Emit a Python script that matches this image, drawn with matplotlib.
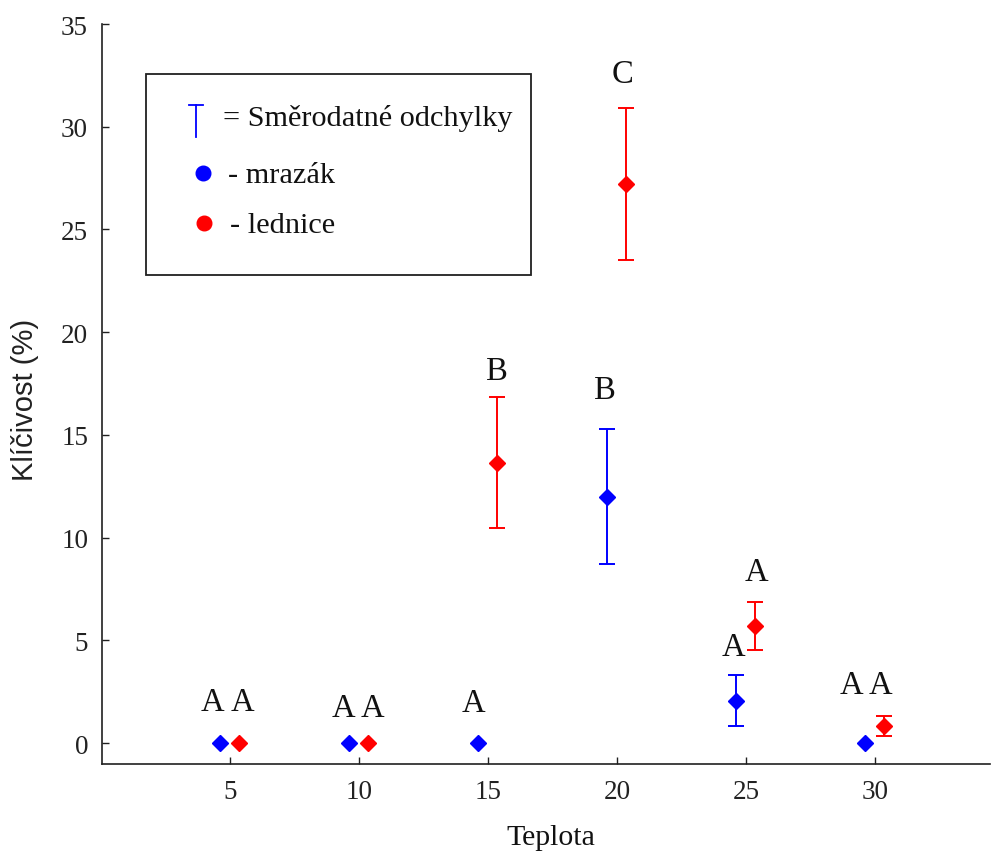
import numpy as np
import matplotlib
matplotlib.use("Agg")
import matplotlib.pyplot as plt
from matplotlib.patches import Rectangle

# ---- data ----
temps = [5, 10, 15, 20, 25, 30]
mrazak_mean = [0.0, 0.0, 0.0, 12.0, 2.05, 0.0]
mrazak_sd = [0.0, 0.0, 0.0, 3.27, 1.24, 0.0]
lednice_mean = [0.0, 0.0, 13.65, 27.2, 5.7, 0.82]
lednice_sd = [0.0, 0.0, 3.17, 3.7, 1.15, 0.5]

# significance letters (group labels) and where they sit
letters = ['A', 'A', 'A', 'A', 'A', 'B', 'B', 'C', 'A', 'A', 'A', 'A']
letter_x = [4.34, 5.47, 9.38, 10.54, 14.42, 15.35, 19.53, 20.23, 24.5, 25.39, 29.07, 30.23]
letter_y = [2.0, 2.0, 1.7, 1.7, 1.95, 18.1, 17.2, 32.6, 4.67, 8.33, 2.82, 2.82]

xticks = [5, 10, 15, 20, 25, 30]
yticks = [0, 5, 10, 15, 20, 25, 30, 35]

legend_labels = ['= Směrodatné odchylky', '- mrazák', '- lednice']

BLUE = '#0000ff'
RED = '#ff0000'
SERIF = 'Liberation Serif'
SANS = 'Liberation Sans'

W, H = 993, 854
fig = plt.figure(figsize=(W / 100, H / 100), dpi=100)
ax_l, ax_r, ax_t, ax_b = 102, 990, 25, 765
ax = fig.add_axes([ax_l / W, 1 - ax_b / H, (ax_r - ax_l) / W, (ax_b - ax_t) / H])

off_b, off_r = -0.4, 0.35
xb = np.array(temps) + off_b
xr = np.array(temps) + off_r

def sd_or_nan(v):
    return np.array([s if s > 0 else np.nan for s in v])

ax.errorbar(xb, mrazak_mean, yerr=sd_or_nan(mrazak_sd), fmt='D', color=BLUE,
            ecolor=BLUE, elinewidth=1.4, capsize=6, capthick=1.4, markersize=8.5, zorder=3)
ax.errorbar(xr, lednice_mean, yerr=sd_or_nan(lednice_sd), fmt='D', color=RED,
            ecolor=RED, elinewidth=1.4, capsize=6, capthick=1.4, markersize=8.5, zorder=3)

for t, x, y in zip(letters, letter_x, letter_y):
    ax.text(x, y, t, ha='center', va='center', fontsize=23.5, family=SERIF, color='#111111')

ax.set_xlim(0.04, 34.46)
ax.set_ylim(-1.02, 35.0)
ax.set_xticks(xticks)
ax.set_yticks(yticks)
ax.tick_params(direction='in', length=5, width=1.0, color='#202020')
ax.tick_params(axis='x', pad=11)
ax.tick_params(axis='y', pad=10)
for lab in ax.get_xticklabels() + ax.get_yticklabels():
    lab.set_fontfamily(SERIF)
    lab.set_fontsize(19.5)
    lab.set_color('#222222')

for s in ['top', 'right']:
    ax.spines[s].set_visible(False)
for s in ['left', 'bottom']:
    ax.spines[s].set_linewidth(1.2)
    ax.spines[s].set_color('#202020')

ax.set_xlabel('Teplota', family=SERIF, fontsize=21.5, color='#111111', va='center')
ax.xaxis.set_label_coords((551 - ax_l) / (ax_r - ax_l), (ax_b - 838) / (ax_b - ax_t))
ax.set_ylabel('Klíčivost (%)', family=SANS, fontsize=21, color='#222222', va='center')
ax.yaxis.set_label_coords((25 - ax_l) / (ax_r - ax_l), (ax_b - 400) / (ax_b - ax_t))

# ---- hand-drawn legend box (axes pixel geometry) ----
def fx(px):
    return (px - ax_l) / (ax_r - ax_l)

def fy(py):
    return (ax_b - py) / (ax_b - ax_t)

ax.add_patch(Rectangle((fx(146), fy(276)), fx(531) - fx(146), fy(75) - fy(276),
                       transform=ax.transAxes, fill=False, edgecolor='#202020',
                       linewidth=1.3, zorder=4))
# error-bar glyph
ax.plot([fx(196), fx(196)], [fy(106), fy(138)], transform=ax.transAxes, color=BLUE, lw=1.3, zorder=5)
ax.plot([fx(189), fx(203)], [fy(106), fy(106)], transform=ax.transAxes, color=BLUE, lw=1.3, zorder=5)
ax.plot([fx(203)], [fy(174)], 'o', transform=ax.transAxes, color=BLUE, markersize=10.5, zorder=5)
ax.plot([fx(204)], [fy(224)], 'o', transform=ax.transAxes, color=RED, markersize=10.5, zorder=5)
for lab, px, py in zip(legend_labels, [223, 228, 230], [119, 176, 226]):
    ax.text(fx(px), fy(py), lab, transform=ax.transAxes, ha='left', va='center',
            fontsize=21.8, family=SERIF, color='#111111', zorder=5)

fig.savefig('out.png', dpi=100)
